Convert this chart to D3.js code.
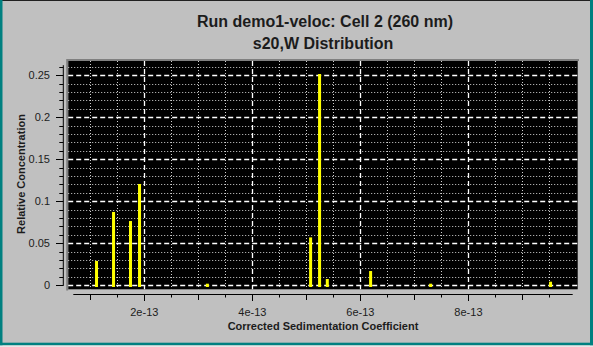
<!DOCTYPE html>
<html><head><meta charset="utf-8">
<script src="https://cdn.jsdelivr.net/npm/d3@7"></script>
<style>
html,body{margin:0;padding:0;background:#c0c0c0;}
svg{display:block;}
text{font-family:"Liberation Sans",Arial,sans-serif;fill:#1c1c1c;}
</style></head>
<body>
<script>
// ---- data ----
const titleLines = ["Run demo1-veloc: Cell 2 (260 nm)", "s20,W Distribution"];
const xLabel = "Corrected Sedimentation Coefficient";
const yLabel = "Relative Concentration";
const sValues = [1.115e-13, 1.430e-13, 1.744e-13, 1.911e-13, 3.167e-13, 5.078e-13, 5.244e-13, 5.387e-13, 6.189e-13, 7.300e-13, 9.520e-13];
const concValues = [0.029, 0.0873, 0.0765, 0.1206, 0.0019, 0.057, 0.2515, 0.0075, 0.017, 0.0019, 0.0043];
const xMajorTicks = [2e-13, 4e-13, 6e-13, 8e-13];
const xTickLabels = ["2e-13", "4e-13", "6e-13", "8e-13"];
const yMajorTicks = [0, 0.05, 0.1, 0.15, 0.2, 0.25];
const yTickLabels = ["0", "0.05", "0.1", "0.15", "0.2", "0.25"];
const xDomain = [0.685e-13, 9.93e-13];
const yDomain = [0, 0.262];

const W = 593, H = 347;
const svg = d3.select("body").append("svg").attr("width", W).attr("height", H);

// window frame
svg.append("rect").attr("x",0).attr("y",0).attr("width",W).attr("height",H).attr("fill","#c0c0c0");
svg.append("rect").attr("x",0).attr("y",0).attr("width",W).attr("height",1).attr("fill","#202020");
svg.append("rect").attr("x",0).attr("y",0).attr("width",2.5).attr("height",346).attr("fill","#008080");
svg.append("rect").attr("x",590).attr("y",0).attr("width",3).attr("height",346).attr("fill","#008080");
svg.append("rect").attr("x",0).attr("y",342.7).attr("width",593).attr("height",2.7).attr("fill","#008080");
svg.append("rect").attr("x",0).attr("y",345.4).attr("width",593).attr("height",2).attr("fill","#e8e8e8");

const x = d3.scaleLinear().domain(xDomain).range([73.3, 572.7]);
const y = d3.scaleLinear().domain(yDomain).range([285.3, 65.2]);

const canvas = {x0: 68.2, x1: 577.7, y0: 61, y1: 289.3};

// canvas
svg.append("rect").attr("x",canvas.x0).attr("y",canvas.y0).attr("width",canvas.x1-canvas.x0).attr("height",canvas.y1-canvas.y0).attr("fill","#000");
svg.append("line").attr("x1",67.2).attr("x2",579).attr("y1",60).attr("y2",60).attr("stroke","#808080").attr("stroke-width",2);
svg.append("line").attr("x1",67.2).attr("x2",67.2).attr("y1",59).attr("y2",290.5).attr("stroke","#808080").attr("stroke-width",2);

// grid
const eps = 1e-20;
const xMinor = d3.range(1, 20).map(i => i * 0.5e-13).filter(v => v >= xDomain[0] && v <= xDomain[1]);
const isXMajor = v => Math.abs(Math.round(v / 2e-13) * 2e-13 - v) < 1e-16;
const yMinor = d3.range(0, 27).map(i => i * 0.01).filter(v => v <= yDomain[1] + 1e-9);
const isYMajor = v => Math.abs(Math.round(v / 0.05) * 0.05 - v) < 1e-9;

const g = svg.append("g");
yMinor.forEach(v => {
  const yy = Math.round(y(v)) + 0.5;
  g.append("line").attr("x1",canvas.x0).attr("x2",canvas.x1).attr("y1",yy).attr("y2",yy)
    .attr("stroke", isYMajor(v) ? "#ffffff" : "#d0d0d0")
    .attr("stroke-width", isYMajor(v) ? 1.3 : 1)
    .attr("stroke-dasharray", isYMajor(v) ? "5,3" : "1,2");
});
xMinor.forEach(v => {
  const xx = Math.round(x(v)) + 0.5;
  g.append("line").attr("x1",xx).attr("x2",xx).attr("y1",canvas.y0).attr("y2",canvas.y1)
    .attr("stroke", isXMajor(v) ? "#ffffff" : "#d0d0d0")
    .attr("stroke-width", isXMajor(v) ? 1.3 : 1)
    .attr("stroke-dasharray", isXMajor(v) ? "5,3" : "1,2");
});

// bars
svg.append("g").selectAll("rect").data(sValues).join("rect")
  .attr("x", d => x(d) - 1.5)
  .attr("width", 3)
  .attr("y", (d, i) => y(concValues[i]))
  .attr("height", (d, i) => y(-0.002) - y(concValues[i]))
  .attr("fill", "#ffff00");

// x axis
const xAxisY = 294;
const ax = svg.append("g");
ax.append("line").attr("x1",x(xDomain[0])).attr("x2",x(xDomain[1])).attr("y1",xAxisY+0.5).attr("y2",xAxisY+0.5).attr("stroke","#000");
xMinor.forEach(v => {
  const odd = Math.abs(Math.round(v / 1e-13) * 1e-13 - v) < 1e-16;
  const len = isXMajor(v) ? 7 : (odd ? 6 : 3.5);
  const xx = Math.round(x(v)) + 0.5;
  ax.append("line").attr("x1",xx).attr("x2",xx).attr("y1",xAxisY).attr("y2",xAxisY+len).attr("stroke","#000");
});
ax.selectAll("text.xt").data(xMajorTicks).join("text").attr("class","xt")
  .attr("x", d => x(d)).attr("y", 316).attr("text-anchor","middle").attr("font-size","11px")
  .text((d, i) => xTickLabels[i]);
svg.append("text").attr("x", 323).attr("y", 329.5).attr("text-anchor","middle")
  .attr("font-size","11px").attr("font-weight","bold").text(xLabel);

// y axis
const yAxisX = 63.3;
const ay = svg.append("g");
ay.append("line").attr("x1",yAxisX).attr("x2",yAxisX).attr("y1",y(yDomain[1])).attr("y2",y(0)+0.5).attr("stroke","#000");
yMinor.forEach(v => {
  const len = isYMajor(v) ? 7.3 : 4;
  const yy = Math.round(y(v)) + 0.5;
  ay.append("line").attr("x1",yAxisX-len).attr("x2",yAxisX).attr("y1",yy).attr("y2",yy).attr("stroke","#000");
});
ay.selectAll("text.yt").data(yMajorTicks).join("text").attr("class","yt")
  .attr("x", 50).attr("y", d => y(d) + 4).attr("text-anchor","end").attr("font-size","11px")
  .text((d, i) => yTickLabels[i]);
svg.append("text").attr("transform","translate(24.5,174) rotate(-90)").attr("text-anchor","middle")
  .attr("font-size","11px").attr("font-weight","bold").text(yLabel);

// title
svg.append("text").attr("x", 325).attr("y", 27).attr("text-anchor","middle")
  .attr("font-size","16px").attr("font-weight","bold").text(titleLines[0]);
svg.append("text").attr("x", 323).attr("y", 48.5).attr("text-anchor","middle")
  .attr("font-size","16px").attr("font-weight","bold").text(titleLines[1]);
</script>
</body></html>
